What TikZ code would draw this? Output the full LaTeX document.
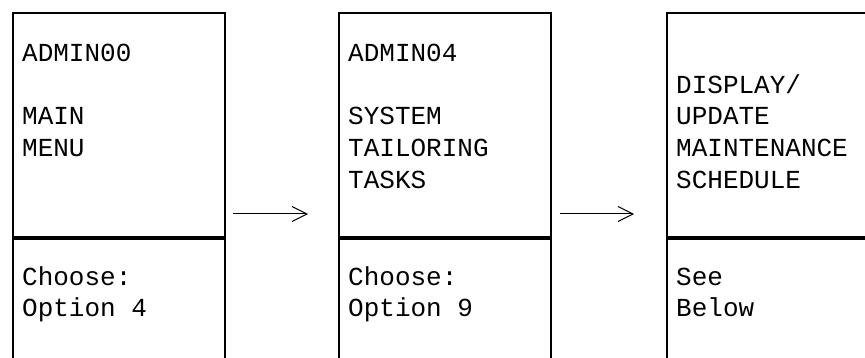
\documentclass[tikz,border=0pt]{standalone}
\usepackage{fontspec}
\setmonofont{Liberation Mono}
\usetikzlibrary{arrows.meta}

\tikzset{
  panel/.style={draw, line width=2pt, minimum width=211.5pt, inner sep=0pt, anchor=north west},
  label/.style={anchor=base west, align=left, inner sep=0pt,
    font=\ttfamily\fontsize{26}{31.7}\selectfont},
  flow/.style={line width=1pt, -{Straight Barb[length=15pt, width=15pt, line width=1pt]}}
}

\begin{document}
\begin{tikzpicture}[x=1pt, y=-1pt]
    % Fix the page to the reference size and cut the boxes at its edges
    \useasboundingbox (0,0) rectangle (865,358);
    \clip (0,0) rectangle (865,358);

    % First screen: main menu (labels sit on their last baseline)
    \node[panel, minimum height=224.5pt] (top1) at (12,12) {};
    \node[panel, minimum height=150pt] (bot1) at (top1.south west) {};
    \node[label] (name1) at (22,156.7) {ADMIN00\\[31.7pt]MAIN\\MENU};
    \node[label] (pick1) at (22,316.7) {Choose:\\Option 4};

    % Second screen: system tailoring
    \node[panel, minimum height=224.5pt] (top2) at (338,12) {};
    \node[panel, minimum height=150pt] (bot2) at (top2.south west) {};
    \node[label] (name2) at (348,188.3) {ADMIN04\\[31.7pt]SYSTEM\\TAILORING\\TASKS};
    \node[label] (pick2) at (348,316.7) {Choose:\\Option 9};

    % Third screen: maintenance schedule
    \node[panel, minimum height=224.5pt] (top3) at (666,12) {};
    \node[panel, minimum height=150pt] (bot3) at (top3.south west) {};
    \node[label] (name3) at (676,188.3) {DISPLAY/\\UPDATE\\MAINTENANCE\\SCHEDULE};
    \node[label] (pick3) at (676,316.7) {See\\Below};

    % Arrows between the screens
    \coordinate (a1s) at (233,214);
    \coordinate (a1e) at (308,214);
    \coordinate (a2s) at (560,214);
    \coordinate (a2e) at (634,214);
    \draw[flow] (a1s) -- (a1e);
    \draw[flow] (a2s) -- (a2e);
\end{tikzpicture}
\end{document}
